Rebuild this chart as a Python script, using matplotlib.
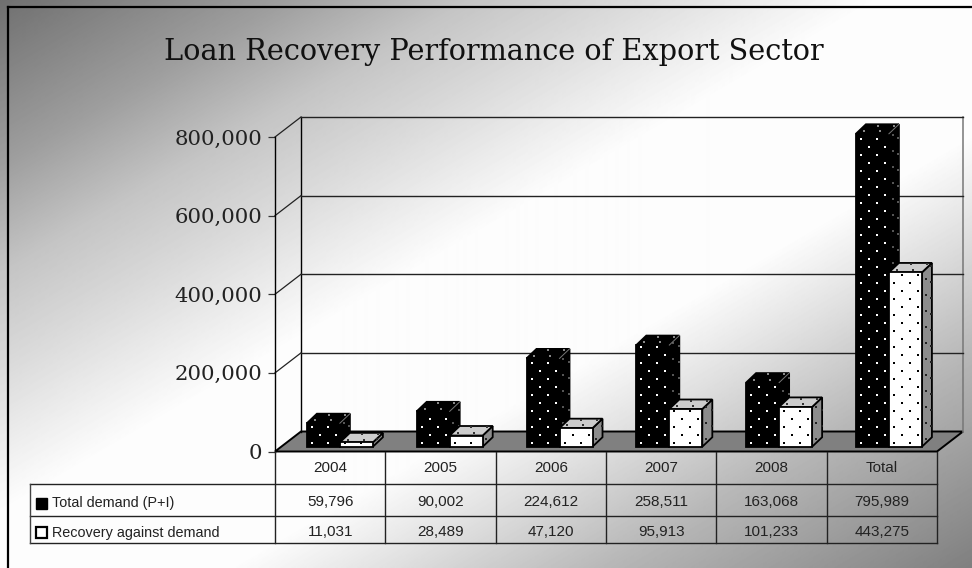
""" Loan recovery chart """

import matplotlib

matplotlib.use("Agg")
import matplotlib.pyplot as plt
from matplotlib.patches import Polygon, Rectangle
import numpy as np

years = ["2004", "2005", "2006", "2007", "2008", "Total"]
total_demand = [59796, 90002, 224612, 258511, 163068, 795989]
recovery = [11031, 28489, 47120, 95913, 101233, 443275]
y_ticks = [0, 200000, 400000, 600000, 800000]
series_names = ["Total demand (P+I)", "Recovery against demand"]
title = "Loan Recovery Performance of Export Sector"

W, H = 972, 568
LEFT, RIGHT, BOTTOM, TOP = 275, 937, 451.5, 137
DEPTH_X, DEPTH_Y = 26, 20
PX_X = (RIGHT - LEFT) / len(years)
PX_Y = (BOTTOM - TOP) / y_ticks[-1]
BAR_W = 33 / PX_X
GROUP = 0.9952
BASE_X, BASE_Y = 10 / PX_X, 4.8 / PX_Y
SIDE_X, SIDE_Y = 10 / PX_X, 9.5 / PX_Y

fig = plt.figure(figsize=(W / 100, H / 100), dpi=100)

# background gradient
bg = fig.add_axes([0, 0, 1, 1], zorder=0)
xx, yy = np.meshgrid(np.linspace(0, 1, 972), np.linspace(0, 1, 568))
shade = np.interp(
    (xx + yy) / 2,
    [0, 0.146, 0.24, 0.33, 0.45, 0.62, 0.7, 0.81, 1],
    [0.44, 0.62, 0.77, 0.86, 0.99, 0.99, 0.88, 0.72, 0.5],
)
bg.imshow(shade, cmap="gray", vmin=0, vmax=1, aspect="auto", extent=[0, W, H, 0])
bg.plot([8, 8], [H, 7], color="black", lw=1.6)
bg.plot([8, W], [7, 7], color="black", lw=1.6)
bg.set_xlim(0, W)
bg.set_ylim(H, 0)
bg.axis("off")
bg.text(494, 52, title, family="DejaVu Serif", fontsize=20.7, ha="center", va="center", color="#111111")

# chart area
ax = fig.add_axes(
    [LEFT / W, 1 - BOTTOM / H, (RIGHT - LEFT) / W, (BOTTOM - TOP) / H],
    zorder=1,
)
ax.set_xlim(0, len(years))
ax.set_ylim(0, y_ticks[-1])
ax.patch.set_alpha(0)
for side in ["top", "right", "bottom"]:
    ax.spines[side].set_visible(False)
ax.spines["left"].set_linewidth(1.0)
ax.set_xticks([])
ax.set_yticks(y_ticks)
ax.set_yticklabels([f"{v:,}" for v in y_ticks], family="DejaVu Serif", fontsize=15.3, color="#222222")
ax.tick_params(axis="y", length=5, width=0.9, pad=4, color="#333333")

back_x = DEPTH_X / PX_X
back_y = DEPTH_Y / PX_Y
n = len(years)

# floor and back wall
ax.add_patch(
    Polygon(
        [(0, 0), (n, 0), (n + back_x, back_y), (back_x, back_y)],
        facecolor="#808080",
        edgecolor="black",
        lw=1.4,
        clip_on=False,
        zorder=1,
    )
)
ax.plot([back_x, back_x], [back_y, y_ticks[-1] + back_y], color="black", lw=1.0, clip_on=False)
ax.plot([n + back_x, n + back_x], [back_y, y_ticks[-1] + back_y], color="#777777", lw=1.1, clip_on=False)
for v in y_ticks[1:]:
    ax.plot([back_x, n + back_x], [v + back_y, v + back_y], color="#222222", lw=1.0, clip_on=False)
    ax.plot([0, back_x], [v, v + back_y], color="#222222", lw=0.9, clip_on=False)


def face_dots(corner, u, v, color, zorder):
    """dots on one bar face, corner plus u and v edges in data units"""

    u_px = np.hypot(u[0] * PX_X, u[1] * PX_Y)
    v_px = np.hypot(v[0] * PX_X, v[1] * PX_Y)
    xs, ys = [], []
    for row in range(int(v_px // 8) + 1):
        for col in range(int(u_px // 16) + 1):
            a = (5 + col * 16 + (row % 2) * 8) / u_px
            b = (4 + row * 8) / v_px
            if a < 1 and b < 1:
                xs.append(corner[0] + a * u[0] + b * v[0])
                ys.append(corner[1] + a * u[1] + b * v[1])
    ax.scatter(xs, ys, s=3.2, marker="s", color=color, linewidths=0, clip_on=False, zorder=zorder)


def draw_bar(x, value, colors, dots, inner, zorder):
    """one 3d bar, colors and dots are front, top, side"""

    y = BASE_Y
    lw = 1.3
    ax.add_patch(
        Polygon(
            [(x + BAR_W, y), (x + BAR_W + SIDE_X, y + SIDE_Y), (x + BAR_W + SIDE_X, y + SIDE_Y + value), (x + BAR_W, y + value)],
            facecolor=colors[2],
            edgecolor="black",
            lw=lw,
            clip_on=False,
            zorder=zorder,
        )
    )
    ax.add_patch(
        Polygon(
            [(x, y + value), (x + BAR_W, y + value), (x + BAR_W + SIDE_X, y + SIDE_Y + value), (x + SIDE_X, y + SIDE_Y + value)],
            facecolor=colors[1],
            edgecolor="black",
            lw=lw,
            clip_on=False,
            zorder=zorder,
        )
    )
    ax.add_patch(
        Rectangle((x, y), BAR_W, value, facecolor=colors[0], edgecolor="black", lw=lw, clip_on=False, zorder=zorder)
    )
    face_dots((x, y), (BAR_W, 0), (0, value), dots[0], zorder + 0.1)
    face_dots((x, y + value), (BAR_W, 0), (SIDE_X, SIDE_Y), dots[1], zorder + 0.1)
    face_dots((x + BAR_W, y), (SIDE_X, SIDE_Y), (0, value), dots[2], zorder + 0.1)
    if inner:
        ax.plot(
            [x + BAR_W, x + BAR_W + SIDE_X],
            [y + value, y + value + SIDE_Y],
            color=inner,
            lw=0.7,
            clip_on=False,
            zorder=zorder + 0.1,
        )


for i in range(n):
    center = (i + 0.5) * GROUP + BASE_X
    draw_bar(
        center - BAR_W,
        total_demand[i],
        ["black", "black", "black"],
        ["white", "#888888", "#555555"],
        "#777777",
        3 + i,
    )
    draw_bar(
        center,
        recovery[i],
        ["white", "#cccccc", "#8c8c8c"],
        ["black", "#333333", "#222222"],
        None,
        3.5 + i,
    )

# data table
tb = fig.add_axes([0, 0, 1, 1], zorder=2)
tb.set_xlim(0, W)
tb.set_ylim(H, 0)
tb.axis("off")
col_x = [LEFT + PX_X * i for i in range(n + 1)]
rows_y = [BOTTOM, 484, 516, 543]
table_x0 = 30
for y in rows_y[1:]:
    tb.plot([table_x0, RIGHT], [y, y], color="#222222", lw=1.0)
tb.plot([table_x0, table_x0], [rows_y[1], rows_y[3]], color="#444444", lw=1.0)
for x in col_x:
    tb.plot([x, x], [rows_y[0], rows_y[3]], color="#222222", lw=1.0)

table_font = dict(family="Liberation Sans", fontsize=11, color="#222222", ha="center", va="center")
for i in range(n):
    cx = (col_x[i] + col_x[i + 1]) / 2
    tb.text(cx, 468, years[i], **table_font)
    tb.text(cx, 502, f"{total_demand[i]:,}", **table_font)
    tb.text(cx, 532, f"{recovery[i]:,}", **table_font)

tb.add_patch(Rectangle((35.5, 497.5), 11, 11, facecolor="black", edgecolor="black", lw=1))
tb.add_patch(Rectangle((35.5, 527), 11, 11, facecolor="white", edgecolor="black", lw=1.6))
label_font = dict(family="Liberation Sans", fontsize=10.4, color="#222222", ha="left", va="center")
tb.text(52, 503, series_names[0], **label_font)
tb.text(52, 533, series_names[1], **label_font)

fig.savefig("out.png", dpi=100)
